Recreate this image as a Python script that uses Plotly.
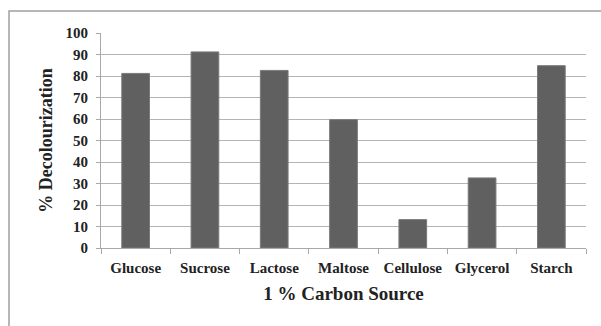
import plotly.graph_objects as go

categories = ["Glucose", "Sucrose", "Lactose", "Maltose", "Cellulose", "Glycerol", "Starch"]
values = [81.2, 91.2, 82.6, 59.7, 13.2, 32.6, 84.8]
y_ticks = [0, 10, 20, 30, 40, 50, 60, 70, 80, 90, 100]

W, H = 601, 326
L, R, T, B = 101, 15, 33, 78
pw, ph = W - L - R, H - T - B

fig = go.Figure(go.Bar(
    x=categories, y=values,
    marker=dict(color="#606060", line=dict(color="#7a7a7a", width=1)),
    width=0.4,
))

font = "Liberation Serif, Times New Roman, serif"

def px_x(p):
    return (p - L) / pw

def px_y(p):
    return (H - B - p) / ph

fig.update_layout(
    width=W, height=H,
    margin=dict(l=L, r=R, t=T, b=B, pad=0),
    paper_bgcolor="white", plot_bgcolor="white",
    showlegend=False,
    font=dict(family=font, color="#222222"),
    xaxis=dict(
        showline=True, linecolor="#a8a8a8", linewidth=1,
        ticks="outside", ticklen=5, tickcolor="#a8a8a8",
        tickson="boundaries",
        ticklabelstandoff=6,
        tickfont=dict(family=font, size=15, color="#222222", weight="bold"),
        title=dict(text="<b>1 % Carbon Source</b>", font=dict(family=font, size=19, color="#222222"), standoff=11),
        showgrid=False,
    ),
    yaxis=dict(
        range=[0, 100], tickvals=y_ticks,
        showline=True, linecolor="#a8a8a8", linewidth=1,
        ticks="outside", ticklen=4, tickcolor="#a8a8a8",
        ticklabelstandoff=5,
        showgrid=True, gridcolor="#b4b4b4", gridwidth=1,
        zeroline=False,
        tickfont=dict(family=font, size=15, color="#222222", weight="bold"),
        title=dict(text="<b>% Decolourization</b>", font=dict(family=font, size=18, color="#222222"), standoff=8),
    ),
    shapes=[dict(
        type="rect", xref="paper", yref="paper",
        x0=px_x(9), x1=px_x(605), y0=px_y(335), y1=px_y(11),
        line=dict(color="#a0a0a0", width=1.5), fillcolor="rgba(0,0,0,0)", layer="below",
    )],
)

fig.write_html(
    "out.html",
    config={"displayModeBar": False},
    post_script="document.body.style.margin='0';document.body.style.overflow='hidden';",
)
